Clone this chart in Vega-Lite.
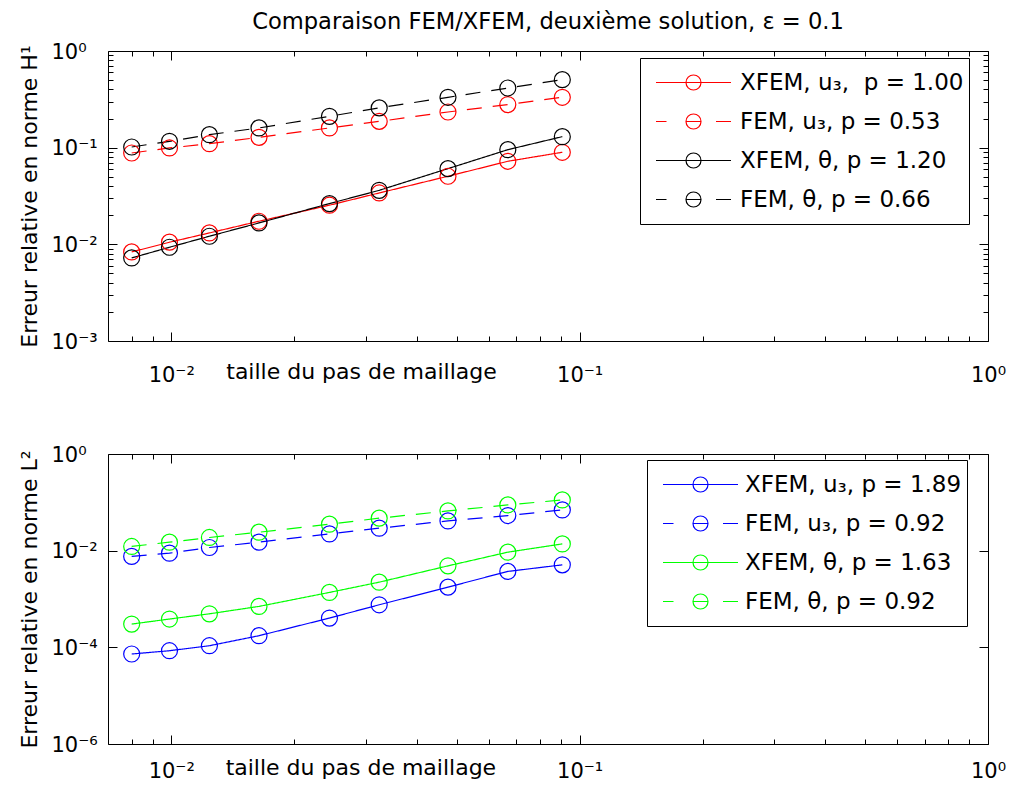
{
  "$schema": "https://vega.github.io/schema/vega-lite/v6.json",
  "background": "white",
  "padding": {"left": 17, "top": 10, "right": 5, "bottom": 5},
  "spacing": 113,
  "bounds": "flush",
  "datasets": {
    "top": [
      {"s": "XFEM, u₃,  p = 1.00", "k": "XFEM", "h": 0.008, "e": 0.00834},
      {"s": "XFEM, u₃,  p = 1.00", "k": "XFEM", "h": 0.0099, "e": 0.01052},
      {"s": "XFEM, u₃,  p = 1.00", "k": "XFEM", "h": 0.0124, "e": 0.01312},
      {"s": "XFEM, u₃,  p = 1.00", "k": "XFEM", "h": 0.0164, "e": 0.01734},
      {"s": "XFEM, u₃,  p = 1.00", "k": "XFEM", "h": 0.0244, "e": 0.0254},
      {"s": "XFEM, u₃,  p = 1.00", "k": "XFEM", "h": 0.0323, "e": 0.034},
      {"s": "XFEM, u₃,  p = 1.00", "k": "XFEM", "h": 0.0476, "e": 0.0506},
      {"s": "XFEM, u₃,  p = 1.00", "k": "XFEM", "h": 0.0667, "e": 0.0723},
      {"s": "XFEM, u₃,  p = 1.00", "k": "XFEM", "h": 0.0907, "e": 0.0896},
      {"s": "FEM, u₃, p = 0.53", "k": "FEM", "h": 0.008, "e": 0.0881},
      {"s": "FEM, u₃, p = 0.53", "k": "FEM", "h": 0.0099, "e": 0.0993},
      {"s": "FEM, u₃, p = 0.53", "k": "FEM", "h": 0.0124, "e": 0.11},
      {"s": "FEM, u₃, p = 0.53", "k": "FEM", "h": 0.0164, "e": 0.128},
      {"s": "FEM, u₃, p = 0.53", "k": "FEM", "h": 0.0244, "e": 0.16},
      {"s": "FEM, u₃, p = 0.53", "k": "FEM", "h": 0.0323, "e": 0.187},
      {"s": "FEM, u₃, p = 0.53", "k": "FEM", "h": 0.0476, "e": 0.234},
      {"s": "FEM, u₃, p = 0.53", "k": "FEM", "h": 0.0667, "e": 0.279},
      {"s": "FEM, u₃, p = 0.53", "k": "FEM", "h": 0.0907, "e": 0.332},
      {"s": "XFEM, θ, p = 1.20", "k": "XFEM", "h": 0.008, "e": 0.00723},
      {"s": "XFEM, θ, p = 1.20", "k": "XFEM", "h": 0.0099, "e": 0.00933},
      {"s": "XFEM, θ, p = 1.20", "k": "XFEM", "h": 0.0124, "e": 0.01213},
      {"s": "XFEM, θ, p = 1.20", "k": "XFEM", "h": 0.0164, "e": 0.01665},
      {"s": "XFEM, θ, p = 1.20", "k": "XFEM", "h": 0.0244, "e": 0.0264},
      {"s": "XFEM, θ, p = 1.20", "k": "XFEM", "h": 0.0323, "e": 0.0362},
      {"s": "XFEM, θ, p = 1.20", "k": "XFEM", "h": 0.0476, "e": 0.0607},
      {"s": "XFEM, θ, p = 1.20", "k": "XFEM", "h": 0.0667, "e": 0.0953},
      {"s": "XFEM, θ, p = 1.20", "k": "XFEM", "h": 0.0907, "e": 0.13},
      {"s": "FEM, θ, p = 0.66", "k": "FEM", "h": 0.008, "e": 0.1016},
      {"s": "FEM, θ, p = 0.66", "k": "FEM", "h": 0.0099, "e": 0.1164},
      {"s": "FEM, θ, p = 0.66", "k": "FEM", "h": 0.0124, "e": 0.1363},
      {"s": "FEM, θ, p = 0.66", "k": "FEM", "h": 0.0164, "e": 0.16},
      {"s": "FEM, θ, p = 0.66", "k": "FEM", "h": 0.0244, "e": 0.211},
      {"s": "FEM, θ, p = 0.66", "k": "FEM", "h": 0.0323, "e": 0.258},
      {"s": "FEM, θ, p = 0.66", "k": "FEM", "h": 0.0476, "e": 0.332},
      {"s": "FEM, θ, p = 0.66", "k": "FEM", "h": 0.0667, "e": 0.414},
      {"s": "FEM, θ, p = 0.66", "k": "FEM", "h": 0.0907, "e": 0.505}
    ],
    "bot": [
      {"s": "XFEM, u₃, p = 1.89", "k": "XFEM", "h": 0.008, "e": 0.0000728},
      {"s": "XFEM, u₃, p = 1.89", "k": "XFEM", "h": 0.0099, "e": 0.0000851},
      {"s": "XFEM, u₃, p = 1.89", "k": "XFEM", "h": 0.0124, "e": 0.000108},
      {"s": "XFEM, u₃, p = 1.89", "k": "XFEM", "h": 0.0164, "e": 0.000174},
      {"s": "XFEM, u₃, p = 1.89", "k": "XFEM", "h": 0.0244, "e": 0.000403},
      {"s": "XFEM, u₃, p = 1.89", "k": "XFEM", "h": 0.0323, "e": 0.000759},
      {"s": "XFEM, u₃, p = 1.89", "k": "XFEM", "h": 0.0476, "e": 0.00176},
      {"s": "XFEM, u₃, p = 1.89", "k": "XFEM", "h": 0.0667, "e": 0.00372},
      {"s": "XFEM, u₃, p = 1.89", "k": "XFEM", "h": 0.0907, "e": 0.00509},
      {"s": "FEM, u₃, p = 0.92", "k": "FEM", "h": 0.008, "e": 0.00759},
      {"s": "FEM, u₃, p = 0.92", "k": "FEM", "h": 0.0099, "e": 0.00888},
      {"s": "FEM, u₃, p = 0.92", "k": "FEM", "h": 0.0124, "e": 0.01164},
      {"s": "FEM, u₃, p = 0.92", "k": "FEM", "h": 0.0164, "e": 0.015},
      {"s": "FEM, u₃, p = 0.92", "k": "FEM", "h": 0.0244, "e": 0.0222},
      {"s": "FEM, u₃, p = 0.92", "k": "FEM", "h": 0.0323, "e": 0.0292},
      {"s": "FEM, u₃, p = 0.92", "k": "FEM", "h": 0.0476, "e": 0.0413},
      {"s": "FEM, u₃, p = 0.92", "k": "FEM", "h": 0.0667, "e": 0.0533},
      {"s": "FEM, u₃, p = 0.92", "k": "FEM", "h": 0.0907, "e": 0.0697},
      {"s": "XFEM, θ, p = 1.63", "k": "XFEM", "h": 0.008, "e": 0.000303},
      {"s": "XFEM, θ, p = 1.63", "k": "XFEM", "h": 0.0099, "e": 0.000385},
      {"s": "XFEM, θ, p = 1.63", "k": "XFEM", "h": 0.0124, "e": 0.000494},
      {"s": "XFEM, θ, p = 1.63", "k": "XFEM", "h": 0.0164, "e": 0.000703},
      {"s": "XFEM, θ, p = 1.63", "k": "XFEM", "h": 0.0244, "e": 0.001368},
      {"s": "XFEM, θ, p = 1.63", "k": "XFEM", "h": 0.0323, "e": 0.00223},
      {"s": "XFEM, θ, p = 1.63", "k": "XFEM", "h": 0.0476, "e": 0.00485},
      {"s": "XFEM, θ, p = 1.63", "k": "XFEM", "h": 0.0667, "e": 0.00931},
      {"s": "XFEM, θ, p = 1.63", "k": "XFEM", "h": 0.0907, "e": 0.0138},
      {"s": "FEM, θ, p = 0.92", "k": "FEM", "h": 0.008, "e": 0.01222},
      {"s": "FEM, θ, p = 0.92", "k": "FEM", "h": 0.0099, "e": 0.015},
      {"s": "FEM, θ, p = 0.92", "k": "FEM", "h": 0.0124, "e": 0.01875},
      {"s": "FEM, θ, p = 0.92", "k": "FEM", "h": 0.0164, "e": 0.0241},
      {"s": "FEM, θ, p = 0.92", "k": "FEM", "h": 0.0244, "e": 0.0353},
      {"s": "FEM, θ, p = 0.92", "k": "FEM", "h": 0.0323, "e": 0.047},
      {"s": "FEM, θ, p = 0.92", "k": "FEM", "h": 0.0476, "e": 0.0664},
      {"s": "FEM, θ, p = 0.92", "k": "FEM", "h": 0.0667, "e": 0.0883},
      {"s": "FEM, θ, p = 0.92", "k": "FEM", "h": 0.0907, "e": 0.112}
    ]
  },
  "vconcat": [
    {
      "width": 880,
      "height": 290,
      "data": {"name": "top"},
      "title": {"text": "Comparaison FEM/XFEM, deuxième solution, ε = 0.1", "font": "DejaVu Sans", "fontSize": 22.6, "fontWeight": "normal", "color": "black", "anchor": "middle", "frame": "group", "baseline": "alphabetic", "offset": -11},
      "layer": [
        {
          "mark": {"type": "line", "strokeWidth": 1.2},
          "encoding": {
            "x": {"field": "h", "type": "quantitative", "scale": {"type": "log", "domain": [0.007, 1]},
              "axis": {"orient": "bottom", "values": [0.008,0.009,0.01,0.02,0.03,0.04,0.05,0.06,0.07,0.08,0.09,0.1,0.2,0.3,0.4,0.5,0.6,0.7,0.8,0.9,1],
                "tickSize": {"condition": {"test": "abs(log(datum.value)/LN10-round(log(datum.value)/LN10))<0.001", "value": -9}, "value": -5},
                "labelExpr": "abs(log(datum.value)/LN10-round(log(datum.value)/LN10))<0.001 ? '10' + (round(log(datum.value)/LN10)==0 ? '⁰' : round(log(datum.value)/LN10)==-1 ? '⁻¹' : round(log(datum.value)/LN10)==-2 ? '⁻²' : round(log(datum.value)/LN10)==-3 ? '⁻³' : round(log(datum.value)/LN10)==-4 ? '⁻⁴' : '⁻⁶') : ''",
                "labelAlign": "center", "labelBaseline": "alphabetic", "labelPadding": 49,
                "title": "taille du pas de maillage", "titleX": 253, "titleY": 37, "titleAlign": "center", "titleBaseline": "alphabetic"}},
            "y": {"field": "e", "type": "quantitative", "scale": {"type": "log", "domain": [0.001, 1]},
              "axis": {"orient": "left", "values": [0.001,0.002,0.003,0.004,0.005,0.006,0.007,0.008,0.009,0.01,0.02,0.03,0.04,0.05,0.06,0.07,0.08,0.09,0.1,0.2,0.3,0.4,0.5,0.6,0.7,0.8,0.9,1],
                "tickSize": {"condition": {"test": "abs(log(datum.value)/LN10-round(log(datum.value)/LN10))<0.001", "value": -9}, "value": -5},
                "labelExpr": "abs(log(datum.value)/LN10-round(log(datum.value)/LN10))<0.001 ? '10' + (round(log(datum.value)/LN10)==0 ? '⁰' : round(log(datum.value)/LN10)==-1 ? '⁻¹' : round(log(datum.value)/LN10)==-2 ? '⁻²' : round(log(datum.value)/LN10)==-3 ? '⁻³' : round(log(datum.value)/LN10)==-4 ? '⁻⁴' : '⁻⁶') : ''",
                "labelAlign": "left", "labelBaseline": "middle", "labelPadding": 66, "labelOffset": 1,
                "title": "Erreur relative en norme H¹", "titleAngle": 270, "titleX": -71.5, "titleY": 145, "titleAlign": "center", "titleBaseline": "alphabetic"}},
            "color": {"field": "s", "type": "nominal",
              "scale": {"domain": ["XFEM, u₃,  p = 1.00", "FEM, u₃, p = 0.53", "XFEM, θ, p = 1.20", "FEM, θ, p = 0.66"], "range": ["#ff0000", "#ff0000", "#000000", "#000000"]},
              "legend": {"orient": "none", "legendX": 532, "legendY": 7, "title": null, "padding": 5, "strokeColor": "black", "fillColor": "white", "cornerRadius": 0,
                "symbolSize": 5625, "symbolStrokeWidth": 1.2, "clipHeight": 39, "rowPadding": 0, "symbolOffset": 10, "labelOffset": 8,
                "labelFont": "DejaVu Sans", "labelFontSize": 23, "labelColor": "black", "labelLimit": 500,
                "labelExpr": "replace(datum.label, ',  p', ', \u00a0p')",
                "encode": {"symbols": {"update": {
                  "shape": {"signal": "indexof(datum.value, 'XFEM') == 0 ? 'M-1,0H1M-0.2,0A0.2,0.2,0,1,0,0.2,0A0.2,0.2,0,1,0,-0.2,0' : 'M-1,0H-0.72M0.6,0H1M-0.2,0H0.2M-0.2,0A0.2,0.2,0,1,0,0.2,0A0.2,0.2,0,1,0,-0.2,0'"},
                  "fill": {"value": "transparent"}, "strokeDash": {"value": []}, "opacity": {"value": 1}, "strokeWidth": {"value": 1.2}, "size": {"value": 5625}}}}}},
            "strokeDash": {"field": "k", "type": "nominal", "scale": {"domain": ["XFEM", "FEM"], "range": [[1, 0], [15, 11]]}, "legend": null}
          }
        },
        {
          "mark": {"type": "point", "shape": "circle", "size": 256, "filled": false, "strokeWidth": 1.2, "opacity": 1},
          "encoding": {
            "x": {"field": "h", "type": "quantitative", "scale": {"type": "log", "domain": [0.007, 1]},
              "axis": {"orient": "top", "values": [0.008,0.009,0.01,0.02,0.03,0.04,0.05,0.06,0.07,0.08,0.09,0.1,0.2,0.3,0.4,0.5,0.6,0.7,0.8,0.9,1],
                "tickSize": {"condition": {"test": "abs(log(datum.value)/LN10-round(log(datum.value)/LN10))<0.001", "value": -9}, "value": -5},
                "labels": false, "title": null}},
            "y": {"field": "e", "type": "quantitative", "scale": {"type": "log", "domain": [0.001, 1]},
              "axis": {"orient": "right", "values": [0.001,0.002,0.003,0.004,0.005,0.006,0.007,0.008,0.009,0.01,0.02,0.03,0.04,0.05,0.06,0.07,0.08,0.09,0.1,0.2,0.3,0.4,0.5,0.6,0.7,0.8,0.9,1],
                "tickSize": {"condition": {"test": "abs(log(datum.value)/LN10-round(log(datum.value)/LN10))<0.001", "value": -9}, "value": -5},
                "labels": false, "title": null}},
            "color": {"field": "s", "type": "nominal", "legend": null}
          }
        }
      ],
      "resolve": {"axis": {"x": "independent", "y": "independent"}}
    },
    {
      "width": 880,
      "height": 290,
      "data": {"name": "bot"},
      "layer": [
        {
          "mark": {"type": "line", "strokeWidth": 1.2},
          "encoding": {
            "x": {"field": "h", "type": "quantitative", "scale": {"type": "log", "domain": [0.007, 1]},
              "axis": {"orient": "bottom", "values": [0.008,0.009,0.01,0.02,0.03,0.04,0.05,0.06,0.07,0.08,0.09,0.1,0.2,0.3,0.4,0.5,0.6,0.7,0.8,0.9,1],
                "tickSize": {"condition": {"test": "abs(log(datum.value)/LN10-round(log(datum.value)/LN10))<0.001", "value": -9}, "value": -5},
                "labelExpr": "abs(log(datum.value)/LN10-round(log(datum.value)/LN10))<0.001 ? '10' + (round(log(datum.value)/LN10)==0 ? '⁰' : round(log(datum.value)/LN10)==-1 ? '⁻¹' : round(log(datum.value)/LN10)==-2 ? '⁻²' : round(log(datum.value)/LN10)==-3 ? '⁻³' : round(log(datum.value)/LN10)==-4 ? '⁻⁴' : '⁻⁶') : ''",
                "labelAlign": "center", "labelBaseline": "alphabetic", "labelPadding": 42,
                "title": "taille du pas de maillage", "titleX": 252.4, "titleY": 30.7, "titleAlign": "center", "titleBaseline": "alphabetic"}},
            "y": {"field": "e", "type": "quantitative", "scale": {"type": "log", "domain": [0.000001, 1]},
              "axis": {"orient": "left", "values": [0.000001, 0.0001, 0.01, 1],
                "tickSize": -9,
                "labelExpr": "'10' + (round(log(datum.value)/LN10)==0 ? '⁰' : round(log(datum.value)/LN10)==-2 ? '⁻²' : round(log(datum.value)/LN10)==-4 ? '⁻⁴' : '⁻⁶')",
                "labelAlign": "left", "labelBaseline": "middle", "labelPadding": 66, "labelOffset": 1,
                "title": "Erreur relative en norme L²", "titleAngle": 270, "titleX": -71.5, "titleY": 145, "titleAlign": "center", "titleBaseline": "alphabetic"}},
            "color": {"field": "s", "type": "nominal",
              "scale": {"domain": ["XFEM, u₃, p = 1.89", "FEM, u₃, p = 0.92", "XFEM, θ, p = 1.63", "FEM, θ, p = 0.92"], "range": ["#0000ff", "#0000ff", "#00ff00", "#00ff00"]},
              "legend": {"orient": "none", "legendX": 539, "legendY": 6, "title": null, "padding": 5, "strokeColor": "black", "fillColor": "white", "cornerRadius": 0,
                "symbolSize": 5625, "symbolStrokeWidth": 1.2, "clipHeight": 39, "rowPadding": 0, "symbolOffset": 10, "labelOffset": 6,
                "labelFont": "DejaVu Sans", "labelFontSize": 23, "labelColor": "black", "labelLimit": 500,
                "encode": {"symbols": {"update": {
                  "shape": {"signal": "indexof(datum.value, 'XFEM') == 0 ? 'M-1,0H1M-0.2,0A0.2,0.2,0,1,0,0.2,0A0.2,0.2,0,1,0,-0.2,0' : 'M-1,0H-0.72M0.6,0H1M-0.2,0H0.2M-0.2,0A0.2,0.2,0,1,0,0.2,0A0.2,0.2,0,1,0,-0.2,0'"},
                  "fill": {"value": "transparent"}, "strokeDash": {"value": []}, "opacity": {"value": 1}, "strokeWidth": {"value": 1.2}, "size": {"value": 5625}}}}}},
            "strokeDash": {"field": "k", "type": "nominal", "scale": {"domain": ["XFEM", "FEM"], "range": [[1, 0], [15, 11]]}, "legend": null}
          }
        },
        {
          "mark": {"type": "point", "shape": "circle", "size": 256, "filled": false, "strokeWidth": 1.2, "opacity": 1},
          "encoding": {
            "x": {"field": "h", "type": "quantitative", "scale": {"type": "log", "domain": [0.007, 1]},
              "axis": {"orient": "top", "values": [0.008,0.009,0.01,0.02,0.03,0.04,0.05,0.06,0.07,0.08,0.09,0.1,0.2,0.3,0.4,0.5,0.6,0.7,0.8,0.9,1],
                "tickSize": {"condition": {"test": "abs(log(datum.value)/LN10-round(log(datum.value)/LN10))<0.001", "value": -9}, "value": -5},
                "labels": false, "title": null}},
            "y": {"field": "e", "type": "quantitative", "scale": {"type": "log", "domain": [0.000001, 1]},
              "axis": {"orient": "right", "values": [0.000001, 0.0001, 0.01, 1], "tickSize": -9, "labels": false, "title": null}},
            "color": {"field": "s", "type": "nominal", "legend": null}
          }
        }
      ],
      "resolve": {"axis": {"x": "independent", "y": "independent"}}
    }
  ],
  "resolve": {"scale": {"color": "independent", "strokeDash": "independent"}, "legend": {"color": "independent"}},
  "config": {
    "view": {"stroke": "black", "strokeWidth": 1},
    "axis": {"domain": false, "grid": false, "tickColor": "black", "tickWidth": 1, "labelFont": "DejaVu Sans", "labelFontSize": 21, "labelColor": "black", "labelOverlap": false, "labelFlush": false, "labelBound": false,
      "titleFont": "DejaVu Sans", "titleFontSize": 22, "titleFontWeight": "normal", "titleColor": "black"}
  }
}
